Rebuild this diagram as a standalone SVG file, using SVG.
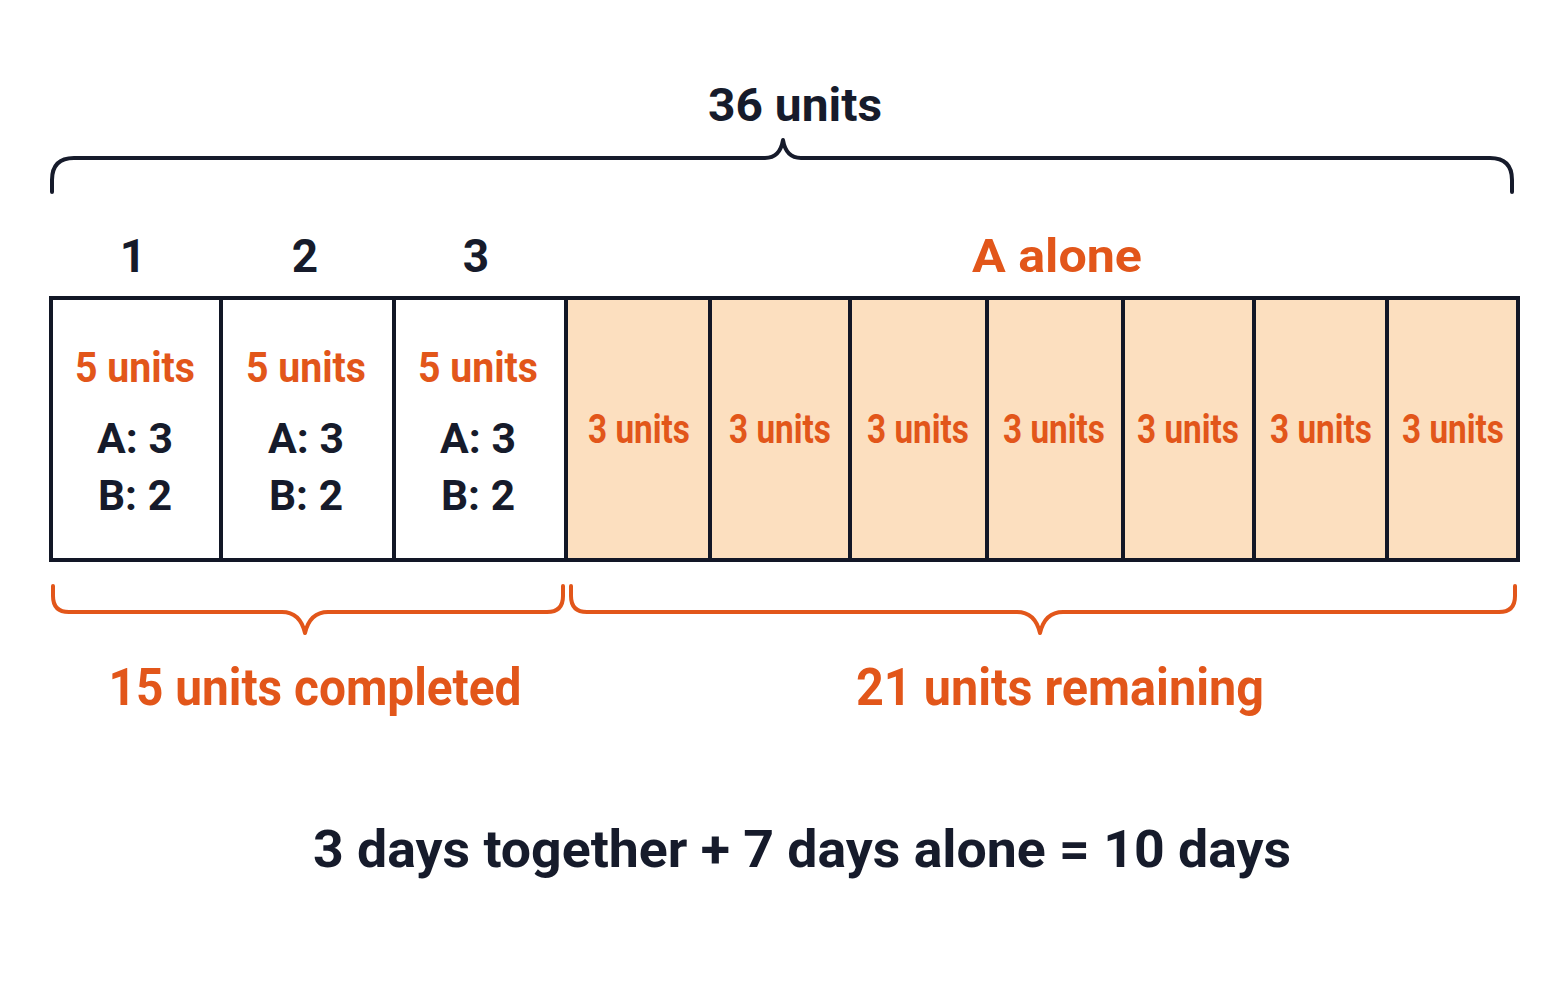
<svg xmlns="http://www.w3.org/2000/svg" width="1563" height="1006" viewBox="0 0 1563 1006">
<style>
text{font-family:Roboto,"Liberation Sans",sans-serif;font-weight:bold;text-anchor:middle}
.dk{fill:#161b2b}
.or{fill:#e2561a}
.cell{stroke:#121726;stroke-width:4}
.w{fill:#ffffff}
.p{fill:#fcdfbf}
.br{fill:none;stroke-width:4;stroke-linecap:round;stroke-linejoin:round}
</style>
<rect width="1563" height="1006" fill="#ffffff"/>
<g id="connectors">
<path class="br" stroke="#161b2b" d="M52,192 V180 Q52,158 74,158 H765 Q780,158 783,140 Q786,158 801,158 H1490 Q1512,158 1512,180 V192"/>
<path class="br" stroke="#e2561a" d="M53,586 V596 Q53,612 69,612 H282 Q300,612 305,633 Q310,612 328,612 H547 Q563,612 563,596 V586"/>
<path class="br" stroke="#e2561a" d="M571,586 V596 Q571,612 587,612 H1017 Q1035,612 1040,633 Q1045,612 1063,612 H1499 Q1515,612 1515,596 V586"/>
</g>
<g id="title"><text class="dk" x="795" y="121" font-size="46" textLength="174" lengthAdjust="spacingAndGlyphs">36 units</text></g>
<g id="labels">
<text class="dk" x="133" y="272" font-size="46">1</text>
<text class="dk" x="305" y="272" font-size="46">2</text>
<text class="dk" x="476" y="272" font-size="46">3</text>
<text class="or" x="1057" y="272" font-size="46" textLength="170" lengthAdjust="spacingAndGlyphs">A alone</text>
</g>
<g id="day1">
<rect class="cell w" x="51" y="298" width="170" height="262"/>
<text class="or" x="135" y="382" font-size="43" textLength="120" lengthAdjust="spacingAndGlyphs">5 units</text>
<text class="dk" x="135" y="453" font-size="42" textLength="76" lengthAdjust="spacingAndGlyphs">A: 3</text>
<text class="dk" x="135" y="510" font-size="42" textLength="74" lengthAdjust="spacingAndGlyphs">B: 2</text>
</g>
<g id="day2">
<rect class="cell w" x="221" y="298" width="173" height="262"/>
<text class="or" x="306" y="382" font-size="43" textLength="120" lengthAdjust="spacingAndGlyphs">5 units</text>
<text class="dk" x="306" y="453" font-size="42" textLength="76" lengthAdjust="spacingAndGlyphs">A: 3</text>
<text class="dk" x="306" y="510" font-size="42" textLength="74" lengthAdjust="spacingAndGlyphs">B: 2</text>
</g>
<g id="day3">
<rect class="cell w" x="394" y="298" width="172" height="262"/>
<text class="or" x="478" y="382" font-size="43" textLength="120" lengthAdjust="spacingAndGlyphs">5 units</text>
<text class="dk" x="478" y="453" font-size="42" textLength="76" lengthAdjust="spacingAndGlyphs">A: 3</text>
<text class="dk" x="478" y="510" font-size="42" textLength="74" lengthAdjust="spacingAndGlyphs">B: 2</text>
</g>
<g id="alone1"><rect class="cell p" x="566" y="298" width="144" height="262"/><text class="or" x="639" y="443" font-size="40" textLength="102" lengthAdjust="spacingAndGlyphs">3 units</text></g>
<g id="alone2"><rect class="cell p" x="710" y="298" width="140" height="262"/><text class="or" x="780" y="443" font-size="40" textLength="102" lengthAdjust="spacingAndGlyphs">3 units</text></g>
<g id="alone3"><rect class="cell p" x="850" y="298" width="137" height="262"/><text class="or" x="918" y="443" font-size="40" textLength="102" lengthAdjust="spacingAndGlyphs">3 units</text></g>
<g id="alone4"><rect class="cell p" x="987" y="298" width="136" height="262"/><text class="or" x="1054" y="443" font-size="40" textLength="102" lengthAdjust="spacingAndGlyphs">3 units</text></g>
<g id="alone5"><rect class="cell p" x="1123" y="298" width="131" height="262"/><text class="or" x="1188" y="443" font-size="40" textLength="102" lengthAdjust="spacingAndGlyphs">3 units</text></g>
<g id="alone6"><rect class="cell p" x="1254" y="298" width="133" height="262"/><text class="or" x="1321" y="443" font-size="40" textLength="102" lengthAdjust="spacingAndGlyphs">3 units</text></g>
<g id="alone7"><rect class="cell p" x="1387" y="298" width="131" height="262"/><text class="or" x="1453" y="443" font-size="40" textLength="102" lengthAdjust="spacingAndGlyphs">3 units</text></g>
<g id="summary">
<text class="or" x="315" y="705" font-size="52" textLength="413" lengthAdjust="spacingAndGlyphs">15 units completed</text>
<text class="or" x="1060" y="705" font-size="52" textLength="408" lengthAdjust="spacingAndGlyphs">21 units remaining</text>
<text class="dk" x="802" y="867" font-size="52" textLength="978" lengthAdjust="spacingAndGlyphs">3 days together + 7 days alone = 10 days</text>
</g>
</svg>
